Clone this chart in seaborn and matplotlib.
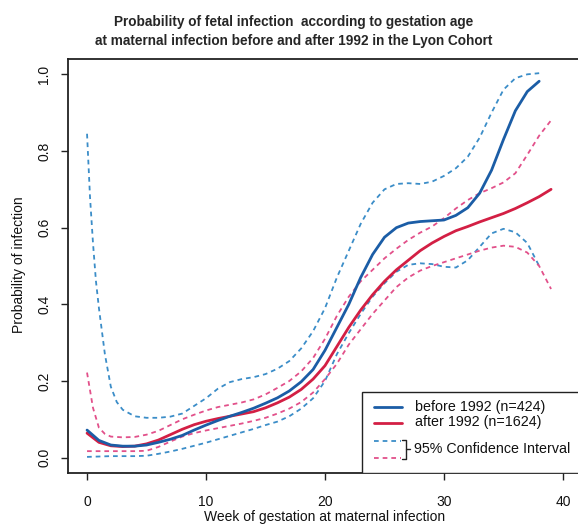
import numpy as np
import pandas as pd
import matplotlib
matplotlib.use("Agg")
import matplotlib.pyplot as plt
from matplotlib.patches import Rectangle
from matplotlib.lines import Line2D
import seaborn as sns

# ---- data: probability of fetal infection by week of maternal infection ----
weeks_before = [0, 1, 2, 3, 4, 5, 6, 7, 8, 9, 10, 11, 12, 13, 14, 15, 16, 17, 18, 19,
                20, 21, 22, 23, 24, 25, 26, 27, 28, 29, 30, 31, 32, 33, 34, 35, 36, 37, 38]
prob_before = [0.072, 0.045, 0.033, 0.030, 0.030, 0.033, 0.040, 0.048, 0.058, 0.072,
               0.085, 0.097, 0.108, 0.118, 0.129, 0.142, 0.156, 0.174, 0.198, 0.230,
               0.280, 0.340, 0.400, 0.470, 0.530, 0.575, 0.600, 0.612, 0.616, 0.618,
               0.620, 0.632, 0.652, 0.690, 0.750, 0.830, 0.905, 0.955, 0.982]

weeks_before_hi = [0, 0.25, 0.5, 0.75, 1, 1.5, 2, 2.5, 3, 4, 5, 6, 7, 8, 9, 10, 11, 12,
                   13, 14, 15, 16, 17, 18, 19, 20, 21, 22, 23, 24, 25, 26, 27, 28, 29,
                   30, 31, 32, 33, 34, 35, 36, 37, 38]
ci_before_hi = [0.845, 0.680, 0.560, 0.460, 0.390, 0.270, 0.185, 0.145, 0.125, 0.108,
                0.104, 0.104, 0.107, 0.115, 0.135, 0.155, 0.180, 0.197, 0.205, 0.210,
                0.218, 0.232, 0.252, 0.285, 0.330, 0.390, 0.470, 0.540, 0.610, 0.665,
                0.700, 0.714, 0.716, 0.714, 0.720, 0.735, 0.755, 0.785, 0.835, 0.900,
                0.960, 0.990, 1.000, 1.003]

weeks_before_lo = weeks_before
ci_before_lo = [0.002, 0.003, 0.004, 0.004, 0.004, 0.005, 0.010, 0.016, 0.023, 0.031,
                0.039, 0.048, 0.057, 0.066, 0.075, 0.085, 0.094, 0.108, 0.128, 0.155,
                0.200, 0.270, 0.325, 0.375, 0.420, 0.455, 0.485, 0.503, 0.507, 0.505,
                0.498, 0.496, 0.515, 0.550, 0.585, 0.597, 0.588, 0.560, 0.500]

weeks_after = [0, 1, 2, 3, 4, 5, 6, 7, 8, 9, 10, 11, 12, 13, 14, 15, 16, 17, 18, 19,
               20, 21, 22, 23, 24, 25, 26, 27, 28, 29, 30, 31, 32, 33, 34, 35, 36, 37, 38, 39]
prob_after = [0.064, 0.040, 0.031, 0.029, 0.030, 0.036, 0.046, 0.060, 0.074, 0.086,
              0.095, 0.102, 0.108, 0.114, 0.120, 0.130, 0.143, 0.158, 0.178, 0.205,
              0.240, 0.290, 0.340, 0.385, 0.425, 0.460, 0.490, 0.515, 0.540, 0.560,
              0.577, 0.592, 0.603, 0.615, 0.626, 0.637, 0.650, 0.665, 0.681, 0.700]

weeks_after_hi = [0, 0.5, 1, 1.5, 2, 3, 4, 5, 6, 7, 8, 9, 10, 11, 12, 13, 14, 15, 16, 17,
                  18, 19, 20, 21, 22, 23, 24, 25, 26, 27, 28, 29, 30, 31, 32, 33, 34, 35,
                  36, 37, 38, 39]
ci_after_hi = [0.222, 0.130, 0.078, 0.062, 0.055, 0.053, 0.054, 0.060, 0.070, 0.085,
               0.100, 0.112, 0.123, 0.132, 0.138, 0.144, 0.152, 0.165, 0.182, 0.200,
               0.225, 0.260, 0.310, 0.370, 0.420, 0.460, 0.490, 0.520, 0.545, 0.568,
               0.587, 0.603, 0.625, 0.650, 0.672, 0.690, 0.703, 0.718, 0.742, 0.790,
               0.840, 0.880]

weeks_after_lo = weeks_after
ci_after_lo = [0.017, 0.017, 0.017, 0.017, 0.017, 0.018, 0.028, 0.042, 0.055, 0.064,
               0.071, 0.077, 0.083, 0.089, 0.096, 0.104, 0.115, 0.128, 0.145, 0.170,
               0.205, 0.245, 0.295, 0.335, 0.375, 0.410, 0.445, 0.470, 0.488, 0.500,
               0.510, 0.520, 0.530, 0.540, 0.548, 0.553, 0.550, 0.535, 0.500, 0.440]

x_ticks = [0, 10, 20, 30, 40]
y_ticks = [0.0, 0.2, 0.4, 0.6, 0.8, 1.0]
y_tick_labels = ["0.0", "0.2", "0.4", "0.6", "0.8", "1.0"]

label_before = "before 1992 (n=424)"
label_after = "after 1992 (n=1624)"
label_ci = "95% Confidence Interval"

# ---- style ----
sns.set_theme(style="white")
plt.rcParams["font.family"] = ["Liberation Sans", "DejaVu Sans"]

BLUE = "#1b5da6"
BLUE_CI = "#3b8dc8"
RED = "#d31f44"
RED_CI = "#e2508a"
DASH = (2.6, 2.2)

fig = plt.figure(figsize=(5.78, 5.24), dpi=100)
ax = fig.add_axes([68 / 578, 1 - 473 / 524, 514 / 578, 414 / 524])

def draw(weeks, values, color, lw, dashed=False):
    frame = pd.DataFrame({"week": weeks, "prob": values})
    line_kw = dict(dashes=DASH) if dashed else {}
    sns.lineplot(data=frame, x="week", y="prob", color=color, linewidth=lw,
                 ax=ax, estimator=None, sort=False, **line_kw)

draw(weeks_before_hi, ci_before_hi, BLUE_CI, 1.3, dashed=True)
draw(weeks_before_lo, ci_before_lo, BLUE_CI, 1.3, dashed=True)
draw(weeks_after_hi, ci_after_hi, RED_CI, 1.3, dashed=True)
draw(weeks_after_lo, ci_after_lo, RED_CI, 1.3, dashed=True)
draw(weeks_after, prob_after, RED, 2.0)
draw(weeks_before, prob_before, BLUE, 2.0)

ax.set_xlim(-1.6, 41.6)
ax.set_ylim(-0.04, 1.04)
ax.set_xticks(x_ticks)
ax.set_xticklabels([str(t) for t in x_ticks])
ax.set_yticks(y_ticks)
ax.set_yticklabels(y_tick_labels, rotation=90, va="center")
ax.tick_params(axis="both", which="major", direction="out", length=5, width=1.0,
               color="#222222", labelsize=10, labelcolor="#111111",
               bottom=True, left=True)
ax.tick_params(axis="x", pad=11)
ax.tick_params(axis="y", pad=7)
for spine in ax.spines.values():
    spine.set_color("#222222")
    spine.set_linewidth(1.3)

ax.set_xlabel("")
ax.set_ylabel("")
fig.text(325 / 578, 3 / 524, "Week of gestation at maternal infection",
         ha="center", va="baseline", fontsize=10, color="#111111")
fig.text(19 / 578, 1 - 265 / 524, "Probability of infection", rotation=90,
         ha="center", va="center", fontsize=10, color="#111111")

fig.text(294 / 578, 1 - 15 / 524,
         "Probability of fetal infection  according to gestation age\n"
         "at maternal infection before and after 1992 in the Lyon Cohort",
         ha="center", va="top", fontsize=9.8, fontweight="bold", linespacing=1.5)

# ---- legend box, drawn in axes coordinates ----
def ax_x(px):
    return (px - 68) / 514

def ax_y(py):
    return (473 - py) / 414

tr = ax.transAxes
ax.add_patch(Rectangle((ax_x(362), 0), 0.6, ax_y(392), transform=tr,
                       facecolor="white", edgecolor="#222222", linewidth=1.0, zorder=5))
ax.add_line(Line2D([ax_x(374), ax_x(402)], [ax_y(407)] * 2, transform=tr,
                   color=BLUE, lw=2.0, zorder=6))
ax.add_line(Line2D([ax_x(374), ax_x(402)], [ax_y(423)] * 2, transform=tr,
                   color=RED, lw=2.0, zorder=6))
ax.add_line(Line2D([ax_x(374), ax_x(401)], [ax_y(441)] * 2, transform=tr,
                   color=BLUE_CI, lw=1.3, dashes=DASH, zorder=6))
ax.add_line(Line2D([ax_x(374), ax_x(401)], [ax_y(458)] * 2, transform=tr,
                   color=RED_CI, lw=1.3, dashes=DASH, zorder=6))
# bracket joining the two interval lines
ax.add_line(Line2D([ax_x(402), ax_x(406), ax_x(406), ax_x(402)],
                   [ax_y(440), ax_y(440), ax_y(459), ax_y(459)], transform=tr,
                   color="#222222", lw=1.0, zorder=6))
ax.add_line(Line2D([ax_x(406), ax_x(410)], [ax_y(449)] * 2, transform=tr,
                   color="#222222", lw=1.0, zorder=6))
ax.text(ax_x(415), ax_y(407), label_before, transform=tr, va="center", ha="left",
        fontsize=10.3, color="#111111", zorder=7)
ax.text(ax_x(415), ax_y(422), label_after, transform=tr, va="center", ha="left",
        fontsize=10.3, color="#111111", zorder=7)
ax.text(ax_x(414), ax_y(449), label_ci, transform=tr, va="center", ha="left",
        fontsize=10.3, color="#111111", zorder=7)

fig.savefig("out.png", dpi=100)
